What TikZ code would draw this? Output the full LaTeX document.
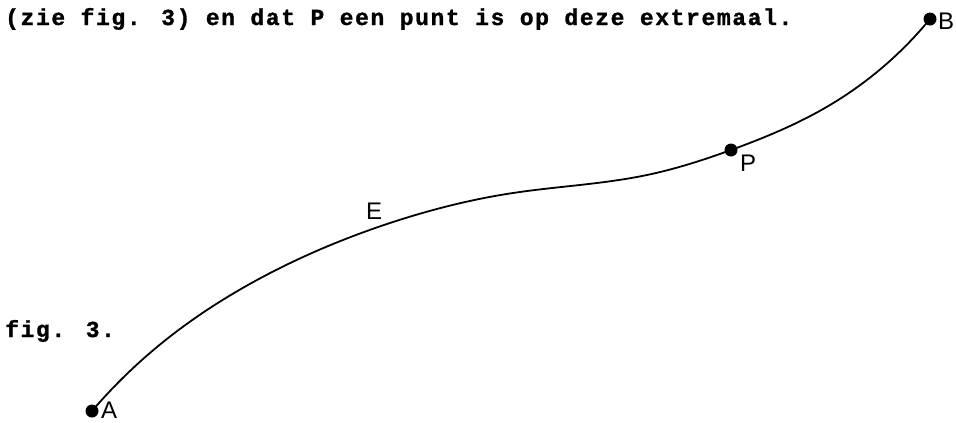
\documentclass[tikz,border=0pt]{standalone}
\usepackage{fontspec}
\setmainfont{Liberation Sans}
\newfontfamily\typefont[LetterSpace=7,FakeBold=1.2]{Liberation Mono Bold}
\usetikzlibrary{hobby}
\begin{document}
\begin{tikzpicture}[x=1pt,y=-1pt,
  dot/.style={circle,fill=black,inner sep=0pt,minimum size=13pt},
  lab/.style={anchor=base west,inner sep=0pt,font=\fontsize{24}{24}\selectfont},
  tw/.style={anchor=base west,inner sep=0pt,font=\typefont\fontsize{23}{23}\selectfont},
  curve/.style={line width=1.8pt,line cap=round}]
\useasboundingbox (0,0) rectangle (956,423);
\node[tw] (title) at (5,25) {(zie fig. 3) en dat P een punt is op deze extremaal.};
\node[tw] (fig) at (5,337) {fig. 3.};
\node[dot] (A) at (92,411) {};
\node[dot] (P) at (731,150) {};
\node[dot] (B) at (930,19) {};
\draw[curve,use Hobby shortcut] (A.center) .. (157,347) .. (257,280) .. (390,223) .. (513,193) .. (647,175) .. (P.center) .. (830,105) .. (B.center);
\node[lab] (la) at (101,418) {A};
\node[lab] (lb) at (938,29) {B};
\node[lab] (lp) at (740,171) {P};
\node[lab] (le) at (366,219) {E};
\end{tikzpicture}
\end{document}
